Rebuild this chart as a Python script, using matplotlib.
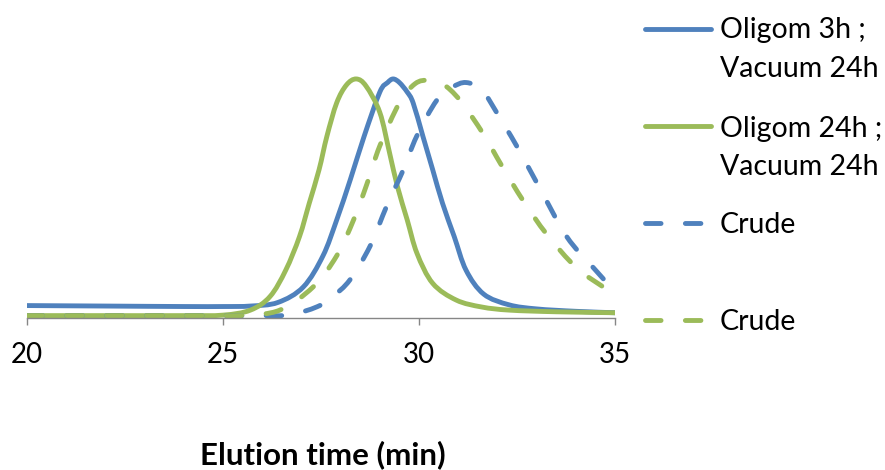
import matplotlib.pyplot as plt
from matplotlib.lines import Line2D
from matplotlib.path import Path
from matplotlib.patches import PathPatch

plt.rcParams['font.family'] = ['Lato', 'DejaVu Sans']

# data (normalised intensity)
blue_solid_x = [20, 22, 24, 25, 25.7, 26.4, 27.05, 27.55, 27.9, 28.25, 28.6, 29.0, 29.2, 29.34,
                29.5, 29.7, 29.85, 30.1, 30.35, 30.6, 30.9, 31.2, 31.65, 32.3, 33.0, 34.0, 35]
blue_solid_y = [0.052, 0.05, 0.048, 0.048, 0.05, 0.065, 0.13, 0.26, 0.41, 0.58, 0.76, 0.945, 0.985, 1.0,
                0.985, 0.945, 0.90, 0.76, 0.62, 0.48, 0.34, 0.20, 0.10, 0.055, 0.038, 0.028, 0.022]

green_solid_x = [20, 22, 24, 25, 25.7, 26.2, 26.6, 26.95, 27.2, 27.45, 27.65, 27.9, 28.15, 28.4,
                 28.65, 29.0, 29.25, 29.45, 29.7, 29.95, 30.35, 30.95, 31.6, 32.3, 33.5, 35]
green_solid_y = [0.01, 0.01, 0.01, 0.012, 0.033, 0.09, 0.20, 0.34, 0.48, 0.62, 0.76, 0.90, 0.975, 1.0,
                 0.97, 0.86, 0.69, 0.55, 0.41, 0.27, 0.145, 0.075, 0.046, 0.033, 0.026, 0.022]

blue_dash_x = [20, 22, 24, 25, 26.0, 26.7, 27.4, 27.8, 28.24, 28.75, 29.18, 29.6, 29.94, 30.45,
               30.85, 31.2, 31.6, 31.98, 32.49, 33.09, 33.77, 34.45, 35]
blue_dash_y = [0.01, 0.01, 0.01, 0.01, 0.01, 0.013, 0.047, 0.09, 0.16, 0.30, 0.47, 0.62, 0.76, 0.91,
               0.965, 0.985, 0.955, 0.86, 0.72, 0.54, 0.34, 0.21, 0.11]

green_dash_x = [20, 22, 24, 25, 25.6, 26.45, 27.3, 27.9, 28.33, 28.67, 29.0, 29.5, 29.9, 30.25,
                30.6, 31.05, 31.64, 32.1, 32.66, 33.26, 34.02, 34.79, 35]
green_dash_y = [0.01, 0.01, 0.01, 0.01, 0.012, 0.033, 0.13, 0.26, 0.41, 0.56, 0.72, 0.90, 0.98, 0.995,
                0.98, 0.91, 0.77, 0.64, 0.49, 0.35, 0.21, 0.12, 0.096]

labels = ['Oligom 3h ;\nVacuum 24h', 'Oligom 24h ;\nVacuum 24h', 'Crude', 'Crude']
xticks = [20, 25, 30, 35]

blue = '#4F81BD'
green = '#9BBB59'
lw = 3.5
dash = (3.2, 5.0)


def smooth_path(xs, ys):
    # Excel style smoothed line: bezier segments through the points (Catmull-Rom)
    pts = list(zip(xs, ys))
    verts = [pts[0]]
    codes = [Path.MOVETO]
    n = len(pts)
    for i in range(n - 1):
        p0 = pts[max(i - 1, 0)]
        p1 = pts[i]
        p2 = pts[i + 1]
        p3 = pts[min(i + 2, n - 1)]
        c1 = (p1[0] + (p2[0] - p0[0]) / 6, p1[1] + (p2[1] - p0[1]) / 6)
        c2 = (p2[0] - (p3[0] - p1[0]) / 6, p2[1] - (p3[1] - p1[1]) / 6)
        verts += [c1, c2, p2]
        codes += [Path.CURVE4] * 3
    return Path(verts, codes)


fig = plt.figure(figsize=(8.85, 4.7), dpi=100)
ax = fig.add_axes([27 / 885, 1 - 318 / 470, 588 / 885, 251 / 470])

series = [
    (blue_solid_x, blue_solid_y, blue, '-'),
    (green_solid_x, green_solid_y, green, '-'),
    (blue_dash_x, blue_dash_y, blue, '--'),
    (green_dash_x, green_dash_y, green, '--'),
]
for x, y, c, ls in series:
    style = (0, dash) if ls == '--' else '-'
    patch = PathPatch(smooth_path(x, y), fill=False, edgecolor=c, lw=lw, linestyle=style,
                      capstyle='round', joinstyle='round')
    ax.add_patch(patch)

ax.set_xlim(20, 35)
ax.set_ylim(0, 1.05)
ax.set_xticks(xticks)
ax.set_yticks([])
for s in ['left', 'right', 'top']:
    ax.spines[s].set_visible(False)
ax.spines['bottom'].set_color('#868686')
ax.spines['bottom'].set_linewidth(1.0)
ax.tick_params(axis='x', direction='out', length=5, width=1.0, color='#868686',
               labelsize=20, pad=12)

fig.text(323 / 885, 1 - 455 / 470, 'Elution time (min)', ha='center', va='center',
         fontsize=22.5, fontweight='bold')

# legend drawn by hand (handle lines up with the first text line)
handle_y = [29, 126, 223, 320]
text_base = [[38, 77], [137, 175], [233], [330]]
for (x, y, c, ls), hy, lab, tb in zip(series, handle_y, labels, text_base):
    ln = Line2D([645 / 885, 711 / 885], [1 - hy / 470, 1 - hy / 470], transform=fig.transFigure,
                color=c, lw=lw, solid_capstyle='round', dash_capstyle='round')
    if ls == '--':
        ln.set_dashes(dash)
    fig.add_artist(ln)
    for part, b in zip(lab.split('\n'), tb):
        fig.text(720 / 885, 1 - b / 470, part, ha='left', va='baseline', fontsize=20.5)

plt.savefig('out.png')
